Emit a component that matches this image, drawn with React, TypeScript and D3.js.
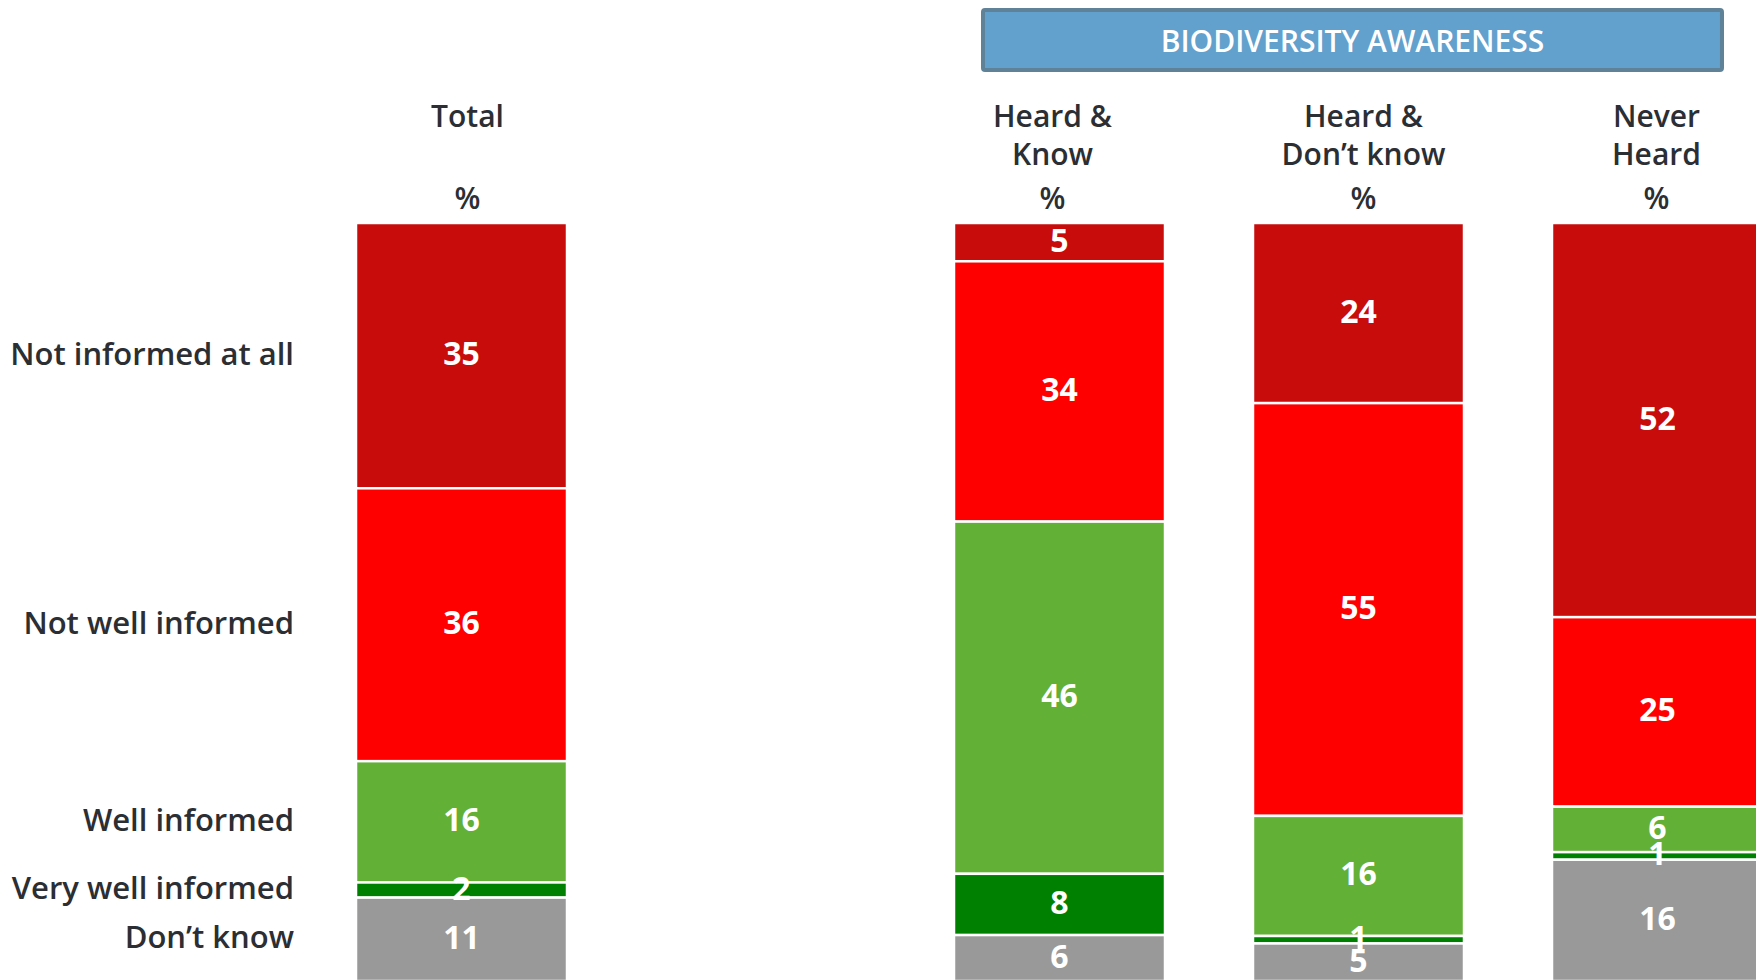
import React from "react";
import * as d3 from "d3";

const columns = ["Total", "gap", "Heard & Know", "Heard & Don't know", "Never Heard"];
const columnHeaders: Record<string, string[]> = {
  Total: ["Total"],
  "Heard & Know": ["Heard &", "Know"],
  "Heard & Don't know": ["Heard &", "Don\u2019t know"],
  "Never Heard": ["Never", "Heard"],
};
const categories = ["Not informed at all", "Not well informed", "Well informed", "Very well informed", "Don\u2019t know"];
const totalValues = [35, 36, 16, 2, 11];
const heardKnowValues = [5, 34, 46, 8, 6];
const heardDontKnowValues = [24, 55, 16, 1, 5];
const neverHeardValues = [52, 25, 6, 1, 16];
const colors = ["#C80B0B", "#FF0000", "#62B035", "#008000", "#999999"];
const title = "BIODIVERSITY AWARENESS";

// small horizontal nudges of the header text boxes relative to bar centres (layout only)
const headerNudge: Record<string, number> = {
  Total: 6,
  "Heard & Know": -7,
  "Heard & Don't know": 5,
  "Never Heard": -1,
};

const W = 1756;
const H = 980;
const FONT = "'Open Sans', 'DejaVu Sans', sans-serif";
const TEXT = "#2B2E33";

export default function App() {
  const series = [
    { col: "Total", values: totalValues },
    { col: "Heard & Know", values: heardKnowValues },
    { col: "Heard & Don't know", values: heardDontKnowValues },
    { col: "Never Heard", values: neverHeardValues },
  ];
  const rows = series.map((s) => {
    const r: any = { col: s.col };
    categories.forEach((c, i) => (r[c] = s.values[i]));
    return r;
  });
  const stacked = d3.stack<any>().keys(categories).offset(d3.stackOffsetExpand)(rows);

  const x = d3.scaleBand<string>().domain(columns).range([356, 1763]).paddingInner(0.2943).paddingOuter(0);
  const bw = x.bandwidth();
  const y = d3.scaleLinear().domain([0, 1]).range([223, 981]);

  const totalIdx = 0;
  const boxX = x("Heard & Know")! + 29;
  const boxW = 739;
  return (
    <svg width={W} height={H} style={{ position: "absolute", left: 0, top: 0, background: "#fff" }} fontFamily={FONT}>
      {/* title box */}
      <rect x={boxX} y={10} width={boxW} height={60} fill="#62A0CD" stroke="#5F8299" strokeWidth={4} rx={2} />
      <text x={boxX + boxW / 2} y={40} fill="#fff" fontSize={30} fontWeight={600} textAnchor="middle" dominantBaseline="central">
        {title}
      </text>

      {/* headers */}
      {series.map((s) => {
        const lines = columnHeaders[s.col];
        const cx = x(s.col)! + bw / 2 + headerNudge[s.col];
        return (
          <g key={s.col}>
            {lines.map((ln, i) => (
              <text key={i} x={cx} y={127 + i * 38} fill={TEXT} fontSize={30} fontWeight={600} textAnchor="middle">
                {ln}
              </text>
            ))}
            <text x={cx} y={209} fill={TEXT} fontSize={30} fontWeight={600} textAnchor="middle">
              %
            </text>
          </g>
        );
      })}

      {/* row labels */}
      {stacked.map((layer, i) => {
        const d = layer[totalIdx];
        const cy = (y(d[0]) + y(d[1])) / 2;
        return (
          <text key={categories[i]} x={294} y={cy - 3} fill={TEXT} fontSize={31} fontWeight={600} textAnchor="end" dominantBaseline="central">
            {categories[i]}
          </text>
        );
      })}

      {/* bars */}
      {stacked.map((layer, i) => (
        <g key={layer.key}>
          {layer.map((d, j) => (
            <rect
              key={j}
              x={x(series[j].col)!}
              y={y(d[0])}
              width={bw}
              height={y(d[1]) - y(d[0])}
              fill={colors[i]}
              stroke="#fff"
              strokeWidth={2.5}
            />
          ))}
        </g>
      ))}

      {/* value labels */}
      {stacked.map((layer, i) => (
        <g key={"v" + layer.key}>
          {layer.map((d, j) => (
            <text
              key={j}
              x={x(series[j].col)! + bw / 2}
              y={(y(d[0]) + y(d[1])) / 2 - 3}
              fill="#fff"
              fontSize={32}
              fontWeight={700}
              textAnchor="middle"
              dominantBaseline="central"
            >
              {series[j].values[i]}
            </text>
          ))}
        </g>
      ))}
    </svg>
  );
}
